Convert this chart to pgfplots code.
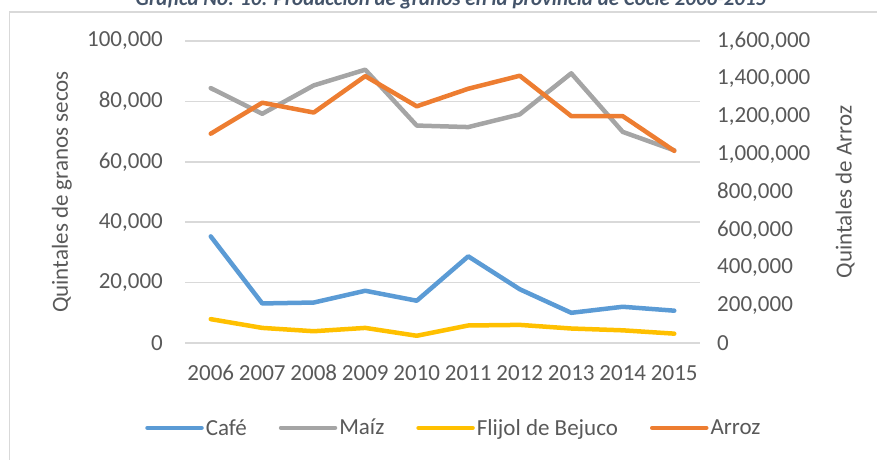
\documentclass[border=0pt]{standalone}
\usepackage{fontspec}
\setmainfont{Carlito}
\usepackage{pgfplots}
\pgfplotsset{compat=1.18}
\definecolor{cafe}{HTML}{5B9BD5}
\definecolor{maiz}{HTML}{A5A5A5}
\definecolor{frijol}{HTML}{FFC000}
\definecolor{arroz}{HTML}{ED7D31}
\definecolor{gridgray}{HTML}{D9D9D9}
\definecolor{txt}{HTML}{595959}
\definecolor{ttl}{HTML}{44546A}
\begin{document}
\begin{tikzpicture}
\useasboundingbox (0pt,0pt) rectangle (877pt,459pt);
\clip (0pt,0pt) rectangle (877pt,459pt);
% marco del área del gráfico
\draw[gridgray, line width=1.5pt] (9.5pt,-30pt) -- (9.5pt,447pt) -- (900pt,447pt);
% título (cortado arriba)
\node[anchor=base, text=ttl, font=\fontsize{21}{25}\selectfont\bfseries\itshape, inner sep=0pt]
  at (451pt,453pt) {Gráfica No. 10: Producción de granos en la provincia de Coclé 2006-2015};
\pgfplotsset{
  base/.style={
    scale only axis,
    width=515pt, height=302pt,
    at={(185pt,116pt)}, anchor=south west,
    xmin=2005.5, xmax=2015.5,
    axis line style={draw=none},
    major tick length=0pt,
    tick label style={font=\fontsize{23}{27}\selectfont, text=txt,
      /pgf/number format/assume math mode=true},
    scaled y ticks=false,
    yticklabel style={/pgf/number format/fixed, /pgf/number format/1000 sep={,}},
    label style={font=\fontsize{23}{27}\selectfont, text=txt},
  },
  serie/.style={line width=4.5pt, line join=round, line cap=round, no markers},
}
\begin{axis}[
  base,
  ymin=0, ymax=100000,
  ytick={0,20000,40000,60000,80000,100000},
  ymajorgrids,
  grid style={gridgray, line width=1.5pt},
  xtick={2006,2007,2008,2009,2010,2011,2012,2013,2014,2015},
  xticklabel style={/pgf/number format/1000 sep=, inner sep=0pt, anchor=north, yshift=-22pt},
  yticklabel style={inner sep=0pt, anchor=east, xshift=-22pt},
  ylabel={Quintales de granos secos},
  ylabel style={at={(axis description cs:-0.239,0.5)}, anchor=center},
  legend style={at={(axis description cs:0.522,-0.281)}, anchor=center,
    draw=none, fill=none, legend columns=4,
    font=\fontsize{23}{27}\selectfont, text=txt,
    /tikz/every even column/.style={column sep=30pt},
    nodes={inner sep=2pt}},
  legend image code/.code={\draw[#1, line width=4.5pt, line cap=round] (0pt,0pt) -- (54pt,0pt);},
]
\addplot[serie, cafe] coordinates {
  (2006,35300) (2007,13100) (2008,13400) (2009,17300) (2010,14000)
  (2011,28700) (2012,17800) (2013,10000) (2014,12000) (2015,10700)
};
\addlegendentry{Café}
\addplot[serie, maiz] coordinates {
  (2006,84400) (2007,75900) (2008,85300) (2009,90500) (2010,72000)
  (2011,71500) (2012,75700) (2013,89300) (2014,69900) (2015,63800)
};
\addlegendentry{Maíz}
\addplot[serie, frijol] coordinates {
  (2006,7900) (2007,5000) (2008,3900) (2009,5000) (2010,2400)
  (2011,5800) (2012,6000) (2013,4800) (2014,4200) (2015,3100)
};
\addlegendentry{Flijol de Bejuco}
\addlegendimage{serie, arroz}
\addlegendentry{Arroz}
\end{axis}
\begin{axis}[
  base,
  ymin=0, ymax=1600000,
  ytick={0,200000,400000,600000,800000,1000000,1200000,1400000,1600000},
  yticklabel pos=right,
  xtick=\empty,
  yticklabel style={inner sep=0pt, anchor=west, xshift=17pt},
  ylabel={Quintales de Arroz},
  ylabel style={at={(axis description cs:1.2816,0.5)}, anchor=center},
]
\addplot[serie, arroz] coordinates {
  (2006,1109000) (2007,1273000) (2008,1221000) (2009,1414000) (2010,1254000)
  (2011,1347000) (2012,1416000) (2013,1202000) (2014,1202000) (2015,1018000)
};
\end{axis}
\end{tikzpicture}
\end{document}
